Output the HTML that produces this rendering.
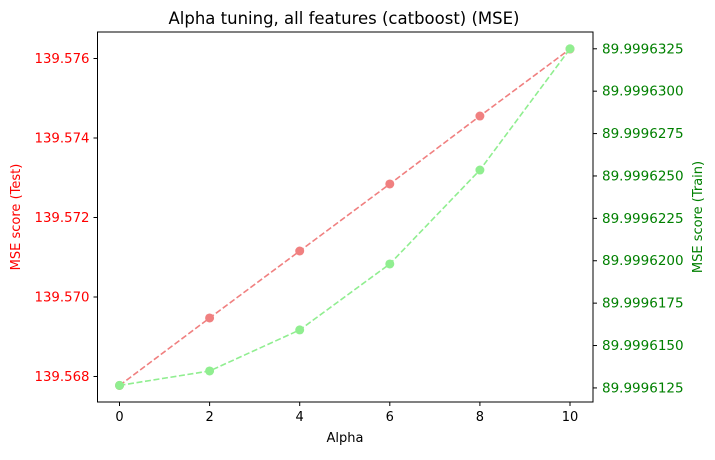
<!DOCTYPE html>
<html><head><meta charset="utf-8"><style>
body{margin:0;background:#fff}
text{font-family:"DejaVu Sans","Liberation Sans",sans-serif}
</style></head><body>
<svg id="chart" width="715" height="455" xmlns="http://www.w3.org/2000/svg"></svg>
<script>
const alphas=[0,2,4,6,8,10];
const testValues=[139.567774,139.569472,139.571157,139.572843,139.574553,139.576239];
const trainValues=[89.99961265,89.9996135,89.99961592,89.99961981,89.99962535,89.9996325];
const xTicks=[0,2,4,6,8,10];
const leftTicks=["139.568","139.570","139.572","139.574","139.576"];
const rightTicks=["89.9996125","89.9996150","89.9996175","89.9996200","89.9996225","89.9996250","89.9996275","89.9996300","89.9996325"];
const NS="http://www.w3.org/2000/svg";
const svg=document.getElementById('chart');
const L=97.5,R=593,T=32,B=402;
const xS=v=>119.5+(v-0)*(570-119.5)/10;
const yL=v=>B-(v-139.567358)/(139.576667-139.567358)*(B-T);
const yR=v=>B-(v-89.99961167)/(89.99963349-89.99961167)*(B-T);
function el(tag,attrs,name,txt){const e=document.createElementNS(NS,tag);for(const k in attrs)e.setAttribute(k,attrs[k]);


if(txt!==undefined)e.textContent=txt;svg.appendChild(e);return e;}
el('text',{x:344,y:24,'font-size':16.5,'text-anchor':'middle'},'chart-title','Alpha tuning, all features (catboost) (MSE)');
xTicks.forEach(t=>{const x=xS(t);el('line',{x1:x,x2:x,y1:B,y2:B+4,stroke:'#000'},'x-tick');
el('text',{x:x,y:B+19,'font-size':13,'text-anchor':'middle'},'x-tick-label',String(t));});
leftTicks.forEach(t=>{const y=yL(parseFloat(t));el('line',{x1:L-4,x2:L,y1:y,y2:y,stroke:'#000'},'left-tick');
el('text',{x:L-8,y:y+4.5,'font-size':13.3,'text-anchor':'end',fill:'red'},'left-tick-label',t);});
rightTicks.forEach(t=>{const y=yR(parseFloat(t));el('line',{x1:R,x2:R+4,y1:y,y2:y,stroke:'#000'},'right-tick');
el('text',{x:R+9,y:y+4.5,'font-size':13.5,fill:'green'},'right-tick-label',t);});
el('text',{x:345,y:442,'font-size':13,'text-anchor':'middle'},'x-axis-title','Alpha');
el('text',{x:0,y:0,'font-size':13,'text-anchor':'middle',fill:'red',transform:'translate(20,217) rotate(-90)'},'left-axis-title','MSE score (Test)');
el('text',{x:0,y:0,'font-size':13,'text-anchor':'middle',fill:'green',transform:'translate(702,217) rotate(-90)'},'right-axis-title','MSE score (Train)');
function series(vals,ys,color,name){
el('polyline',{points:vals.map((v,i)=>xS(alphas[i])+','+ys(v)).join(' '),fill:'none',stroke:color,'stroke-width':1.6,'stroke-dasharray':'6,2.6'},name+'-line');
vals.forEach((v,i)=>el('circle',{cx:xS(alphas[i]),cy:ys(v),r:4.5,fill:color},name+'-point'));}
series(testValues,yL,'lightcoral','test');
series(trainValues,yR,'lightgreen','train');
el('rect',{x:L,y:T,width:R-L,height:B-T,fill:'none',stroke:'#000','stroke-width':1},'plot-frame');
</script>
</body></html>
